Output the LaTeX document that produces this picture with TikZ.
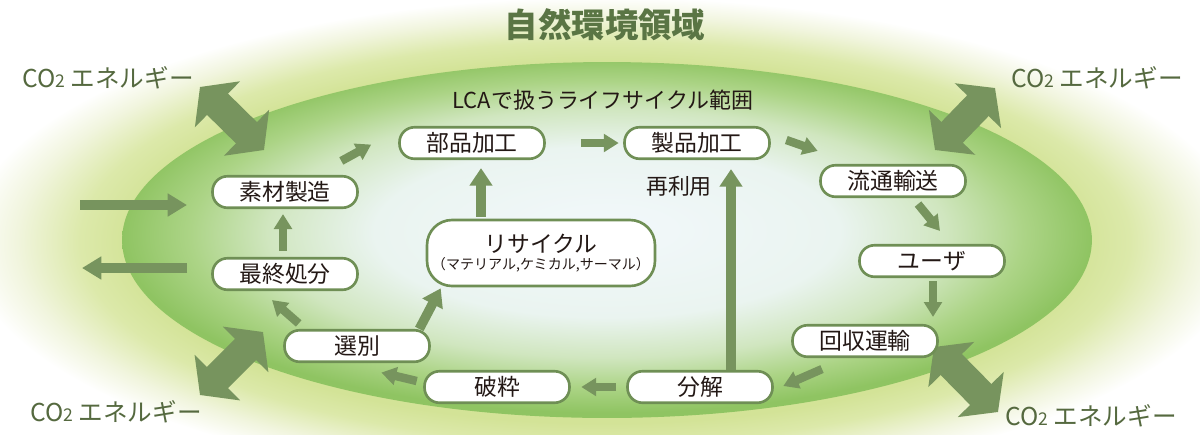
\documentclass[tikz,border=0pt]{standalone}
\usepackage{fontspec}
\setmainfont{Noto Sans CJK JP}
\usetikzlibrary{arrows.meta}
\definecolor{arrowgreen}{HTML}{77945E}
\definecolor{boxgreen}{HTML}{6F8F55}
\definecolor{titlegreen}{HTML}{5A7544}
\definecolor{labelgreen}{HTML}{55693F}
\definecolor{textdark}{HTML}{231815}
\definecolor{haloA}{HTML}{D3E397}
\definecolor{haloB}{HTML}{DCE9AA}
\definecolor{haloC}{HTML}{F1F5DE}
\definecolor{zoneA}{HTML}{F2F8FB}
\definecolor{zoneB}{HTML}{EAF4F0}
\definecolor{zoneC}{HTML}{D0E6BF}
\definecolor{zoneD}{HTML}{ACD486}
\definecolor{zoneE}{HTML}{8FC462}
\pgfdeclareradialshading{halo}{\pgfpoint{0bp}{0bp}}{color(0bp)=(haloA); color(18.5bp)=(haloA); color(20.5bp)=(haloB); color(23bp)=(haloC); color(25bp)=(white); color(50bp)=(white)}
\pgfdeclareradialshading{lcazone}{\pgfpoint{0bp}{1.5bp}}{color(0bp)=(zoneA); color(12bp)=(zoneB); color(17.5bp)=(zoneC); color(21.5bp)=(zoneD); color(25bp)=(zoneE); color(50bp)=(zoneE)}

\begin{document}
\begin{tikzpicture}[x=0.02cm, y=-0.02cm,
  box/.style={draw=boxgreen, line width=1.5pt, fill=white, rounded corners=8.5pt,
    minimum width=2.9cm, minimum height=0.63cm, inner sep=0pt, text=textdark,
    font=\fontsize{13pt}{13pt}\selectfont},
  bigbox/.style={box, rounded corners=0.5cm, minimum width=4.56cm, minimum height=1.32cm,
    align=center, font=\fontsize{13pt}{15pt}\selectfont},
  flow/.style={draw=arrowgreen, line width=4.8pt, -{Triangle[width=10pt,length=8.5pt]}},
  bigflow/.style={draw=arrowgreen, line width=5.4pt, -{Triangle[width=12.5pt,length=10pt]}},
  sideflow/.style={draw=arrowgreen, line width=6.2pt, -{Triangle[width=12.5pt,length=11pt]}},
  co2flow/.style={draw=arrowgreen, line width=17pt,
    {Triangle[width=36pt,length=14pt]}-{Triangle[width=36pt,length=14pt]}},
  co2text/.style={text=labelgreen, font=\fontsize{14pt}{14pt}\selectfont, inner sep=0pt}]

\clip (0,0) rectangle (1200,434);
\path[shading=halo] (605,242) ellipse [x radius=12.8cm, y radius=4.9cm];
\path[shading=lcazone] (607,240) ellipse [x radius=9.7cm, y radius=3.56cm];

\node[text=titlegreen, font=\bfseries\fontsize{19pt}{19pt}\selectfont] (title) at (605,25) {自然環境領域};
\node[text=textdark, font=\fontsize{12.5pt}{12.5pt}\selectfont] (range) at (603,100) {LCAで扱うライフサイクル範囲};

\node[co2text] (co2ul) at (108,78) {CO{\fontsize{10pt}{10pt}\selectfont 2} エネルギー};
\node[co2text] (co2ur) at (1097,78) {CO{\fontsize{10pt}{10pt}\selectfont 2} エネルギー};
\node[co2text] (co2ll) at (116,412) {CO{\fontsize{10pt}{10pt}\selectfont 2} エネルギー};
\node[co2text] (co2lr) at (1091,416) {CO{\fontsize{10pt}{10pt}\selectfont 2} エネルギー};

\coordinate (ulout) at (200,87);
\coordinate (ulin) at (264,150);
\coordinate (urout) at (995,88);
\coordinate (urin) at (935,150);
\coordinate (llout) at (200,395);
\coordinate (llin) at (263,332);
\coordinate (lrout) at (998,412);
\coordinate (lrin) at (934,347);
\draw[co2flow] (ulout) -- (ulin);
\draw[co2flow] (urout) -- (urin);
\draw[co2flow] (llout) -- (llin);
\draw[co2flow] (lrout) -- (lrin);

\coordinate (srcL) at (80,205);
\coordinate (srcR) at (187,205);
\coordinate (sinkR) at (187,268);
\coordinate (sinkL) at (82,268);
\draw[sideflow] (srcL) -- (srcR);
\draw[sideflow] (sinkR) -- (sinkL);

\node[box] (buhin) at (472,143) {部品加工};
\node[box] (seihin) at (697,143) {製品加工};
\node[box] (sozai) at (285,192) {素材製造};
\node[box] (ryutsu) at (893,181) {流通輸送};
\node[bigbox] (recycle) at (541,253) {リサイクル\\[-5pt]{\fontsize{8pt}{8pt}\selectfont （マテリアル,ケミカル,サーマル）}};
\node[box] (user) at (932,261) {ユーザ};
\node[box] (saishu) at (285,274) {最終処分};
\node[box] (kaishu) at (865,341) {回収運輸};
\node[box] (senbetsu) at (357,346) {選別};
\node[box] (hasai) at (497,387) {破粋};
\node[box] (bunkai) at (700,387) {分解};
\node[text=textdark, font=\fontsize{12.5pt}{12.5pt}\selectfont] (reuse) at (679,186) {再利用};

\draw[flow] ([shift={(-17.5,-14)}]sozai.north east) -- ([shift={(-27,-15.5)}]buhin.south west);
\draw[flow, shorten <=0.7cm, shorten >=0.09cm] (buhin.east) -- (seihin.west);
\draw[flow] ([shift={(15.5,-3)}]seihin.east) -- ([shift={(-1.5,-13)}]ryutsu.north west);
\draw[flow] ([shift={(25,6)}]ryutsu.south) -- ([shift={(8,-13)}]user.north);
\draw[flow] ([shift={(1,3)}]user.south) -- ([shift={(68,-7)}]kaishu.north);
\draw[flow] ([shift={(-43,11)}]kaishu.south) -- ([shift={(9.5,-1)}]bunkai.east);
\draw[flow, shorten <=0.2cm, shorten >=0.21cm] (bunkai.west) -- (hasai.east);
\draw[flow] ([shift={(-6.5,-6)}]hasai.west) -- ([shift={(-49.5,9.5)}]senbetsu.south east);
\draw[flow] ([shift={(15.5,-5.5)}]senbetsu.north west) -- ([shift={(-13,9)}]saishu.south);
\draw[flow] ([shift={(-2,-6)}]saishu.north) -- ([shift={(-2,5)}]sozai.south);
\draw[bigflow] ([shift={(-11.5,0)}]senbetsu.north east) -- ([shift={(15,1)}]recycle.south west);
\draw[bigflow] ([shift={(-60,-2)}]recycle.north) -- ([shift={(9,8)}]buhin.south);
\draw[bigflow] ([shift={(31,0)}]bunkai.north) -- ([shift={(34,9)}]seihin.south);

\end{tikzpicture}
\end{document}
